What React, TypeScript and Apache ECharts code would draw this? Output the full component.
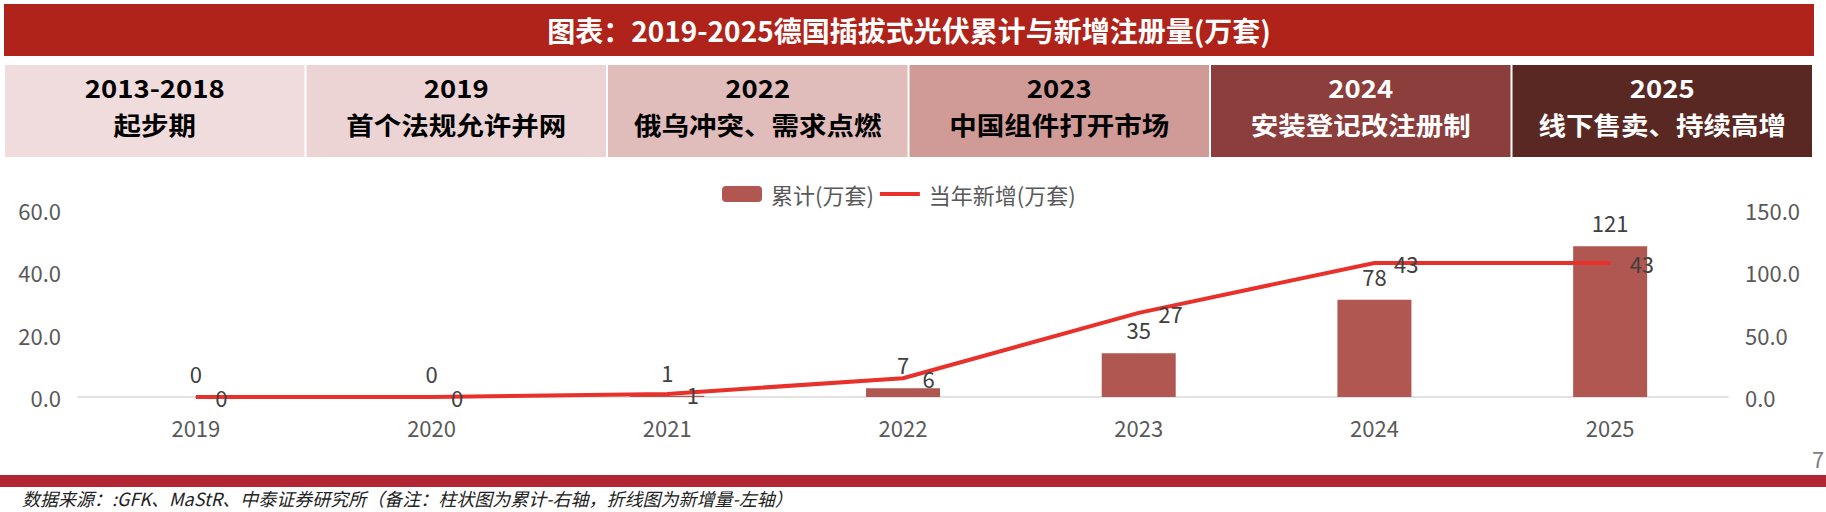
import React, { useEffect, useRef } from 'react';
import * as echarts from 'echarts';

const categories = ['2019', '2020', '2021', '2022', '2023', '2024', '2025'];
const cumulativeValues = [0, 0, 1, 7, 35, 78, 121];
const newValues = [0, 0, 1, 6, 27, 43, 43];
const seriesNames = ['累计(万套)', '当年新增(万套)'];

const stageYears = ['2013-2018', '2019', '2022', '2023', '2024', '2025'];
const stageDescs = ['起步期', '首个法规允许并网', '俄乌冲突、需求点燃', '中国组件打开市场', '安装登记改注册制', '线下售卖、持续高增'];
const stageColors = ['#F0DCDC', '#EDD4D4', '#E0BCBA', '#D09B97', '#8B3E3C', '#5A2823'];
const stageTextColors = ['#000000', '#000000', '#000000', '#000000', '#FFFFFF', '#FFFFFF'];

const titleText = '图表：2019-2025德国插拔式光伏累计与新增注册量(万套)';
const sourceText = '数据来源：:GFK、MaStR、中泰证券研究所（备注：柱状图为累计-右轴，折线图为新增量-左轴）';
const pageNumber = '7';

const FONT = '"Noto Sans CJK SC", "Noto Sans", sans-serif';

export default function App() {
  const ref = useRef<HTMLDivElement>(null);

  useEffect(() => {
    if (!ref.current) return;
    const chart = echarts.init(ref.current, undefined, { renderer: 'svg' });

    const boxX0 = 5;
    const boxPitch = 301.5;
    const boxW = 299.5;
    const boxTop = 65;
    const boxH = 92;

    const stageGraphics: any[] = [];
    stageYears.forEach((yr, i) => {
      const x = boxX0 + i * boxPitch;
      stageGraphics.push({
        type: 'rect',
        shape: { x, y: boxTop, width: boxW, height: boxH },
        style: { fill: stageColors[i] },
        silent: true,
      });
      stageGraphics.push({
        type: 'text',
        x: x + boxW / 2,
        y: 88,
        scaleX: 1.1,
        style: {
          text: yr,
          fill: stageTextColors[i],
          font: `bold 25px ${FONT}`,
          align: 'center',
          verticalAlign: 'middle',
        },
        silent: true,
      });
      stageGraphics.push({
        type: 'text',
        x: x + boxW / 2,
        y: 125,
        scaleX: 1.1,
        style: {
          text: stageDescs[i],
          fill: stageTextColors[i],
          font: `bold 25px ${FONT}`,
          align: 'center',
          verticalAlign: 'middle',
        },
        silent: true,
      });
    });

    const option: any = {
      animation: false,
      backgroundColor: '#FFFFFF',
      textStyle: { fontFamily: FONT },
      graphic: [
        {
          type: 'rect',
          shape: { x: 4, y: 4, width: 1810, height: 52 },
          style: { fill: '#B0231A' },
          silent: true,
        },
        {
          type: 'text',
          x: 909,
          y: 30,
          style: {
            text: titleText,
            fill: '#FFFFFF',
            font: `bold 28px ${FONT}`,
            align: 'center',
            verticalAlign: 'middle',
          },
          silent: true,
        },
        ...stageGraphics,
        {
          type: 'rect',
          shape: { x: 0, y: 475, width: 1826, height: 12 },
          style: { fill: '#B22533' },
          silent: true,
        },
        {
          type: 'text',
          x: 22,
          y: 498,
          style: {
            text: sourceText,
            fill: '#222222',
            font: `italic 18px ${FONT}`,
            align: 'left',
            verticalAlign: 'middle',
          },
          silent: true,
        },
        {
          type: 'text',
          x: 1812,
          y: 458,
          style: {
            text: pageNumber,
            fill: '#7F7F7F',
            font: `22px ${FONT}`,
            align: 'left',
            verticalAlign: 'middle',
          },
          silent: true,
        },
      ],
      legend: {
        data: [
          { name: seriesNames[0] },
          { name: seriesNames[1], icon: 'path://M0,0L44,0L44,4.5L0,4.5Z' },
        ],
        left: 717,
        top: 178,
        itemWidth: 40,
        itemHeight: 16,
        itemGap: 6,
        textStyle: { fontSize: 22, color: '#595959', fontFamily: FONT, padding: [0, 0, 0, 4] },
      },
      grid: { left: 78, right: 98, top: 210, bottom: 115 },
      xAxis: {
        type: 'category',
        data: categories,
        boundaryGap: true,
        axisLine: { show: true, lineStyle: { color: '#D9D9D9', width: 1.5 } },
        axisTick: { show: false },
        axisLabel: { margin: 19, fontSize: 22, color: '#595959', fontFamily: FONT },
      },
      yAxis: [
        {
          type: 'value',
          position: 'left',
          min: 0,
          max: 60,
          interval: 20,
          axisLine: { show: false },
          axisTick: { show: false },
          splitLine: { show: false },
          axisLabel: {
            margin: 17,
            fontSize: 22,
            color: '#595959',
            fontFamily: FONT,
            formatter: (v: number) => v.toFixed(1),
          },
        },
        {
          type: 'value',
          position: 'right',
          min: 0,
          max: 150,
          interval: 50,
          axisLine: { show: false },
          axisTick: { show: false },
          splitLine: { show: false },
          axisLabel: {
            margin: 17,
            fontSize: 22,
            color: '#595959',
            fontFamily: FONT,
            formatter: (v: number) => v.toFixed(1),
          },
        },
      ],
      series: [
        {
          name: seriesNames[0],
          type: 'bar',
          yAxisIndex: 1,
          data: cumulativeValues,
          barWidth: 74,
          itemStyle: { color: '#B15751' },
          label: {
            show: true,
            position: 'top',
            distance: 13,
            fontSize: 22,
            color: '#404040',
            fontFamily: FONT,
          },
        },
        {
          name: seriesNames[1],
          type: 'line',
          yAxisIndex: 0,
          data: newValues,
          symbol: 'circle',
          symbolSize: 1,
          showSymbol: true,
          lineStyle: { width: 4, color: '#E8312A' },
          itemStyle: { color: '#E8312A' },
          label: {
            show: true,
            position: 'right',
            distance: 19,
            fontSize: 22,
            color: '#404040',
            fontFamily: FONT,
          },
        },
      ],
    };

    chart.setOption(option);
    return () => {
      chart.dispose();
    };
  }, []);

  return (
    <div
      ref={ref}
      style={{ position: 'fixed', left: 0, top: 0, width: 1826, height: 512 }}
    />
  );
}
